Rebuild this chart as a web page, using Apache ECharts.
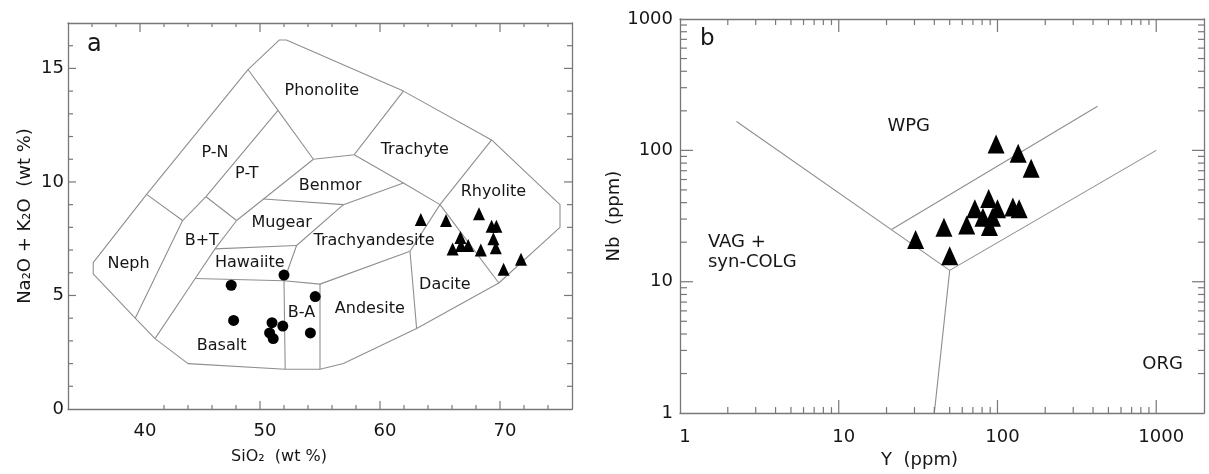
<!DOCTYPE html>
<html>
<head>
<meta charset="utf-8">
<script src="https://cdn.jsdelivr.net/npm/echarts@6/dist/echarts.min.js"></script>
<style>
html, body { margin: 0; padding: 0; background: #fff; }
#chart { width: 1209px; height: 474px; }
</style>
</head>
<body>
<div id="chart"></div>
<script>
// ---- panel a: TAS diagram ----
const basaltSiO2 = [47.6, 52.0, 47.8, 54.6, 51.0, 51.9, 50.8, 51.1, 54.2];
const basaltAlk = [5.45, 5.9, 3.9, 4.95, 3.8, 3.65, 3.35, 3.1, 3.35];
const rhyoliteSiO2 = [63.4, 65.5, 68.25, 69.3, 69.7, 69.45, 69.65, 66.7, 66.05, 66.75, 67.35, 68.4, 70.3, 71.75];
const rhyoliteAlk = [8.35, 8.3, 8.6, 8.05, 8.05, 7.5, 7.1, 7.55, 7.05, 7.2, 7.2, 7.0, 6.15, 6.6];

// field boundaries, polylines of [SiO2, Na2O+K2O]
const tasOutline = [[36.1, 6.45], [40.55, 9.45], [49.0, 14.95], [51.6, 16.25], [52.2, 16.25], [61.95, 14.0],
  [69.3, 11.85], [75.0, 9.0], [75.0, 8.0], [69.9, 5.55], [63.05, 3.55], [56.95, 2.0], [55.0, 1.75],
  [52.1, 1.75], [44.0, 2.0], [41.25, 3.1], [39.6, 4.0], [36.1, 5.95], [36.1, 6.45]];
const tasDividers = [
  [[40.55, 9.45], [43.55, 8.3], [39.6, 4.0]],
  [[49.0, 14.95], [51.5, 13.15], [54.45, 11.0]],
  [[51.5, 13.15], [45.5, 9.35], [43.55, 8.3]],
  [[45.5, 9.35], [48.05, 8.3]],
  [[48.05, 8.3], [46.25, 7.05], [44.6, 5.75], [41.25, 3.1]],
  [[48.05, 8.3], [50.3, 9.25], [54.45, 11.0]],
  [[54.45, 11.0], [57.85, 11.2], [61.95, 14.0]],
  [[57.85, 11.2], [61.95, 9.95], [65.0, 9.0]],
  [[69.3, 11.85], [65.0, 9.0], [62.5, 6.95], [63.05, 3.55]],
  [[65.0, 9.0], [69.9, 5.55]],
  [[50.3, 9.25], [56.95, 9.0], [61.95, 9.95]],
  [[56.95, 9.0], [53.05, 7.2], [52.0, 5.65], [52.1, 1.75]],
  [[46.25, 7.05], [53.05, 7.2]],
  [[44.6, 5.75], [52.0, 5.65], [55.0, 5.5], [62.5, 6.95]],
  [[55.0, 5.5], [55.0, 1.75]]
];
const tasFields = ['Phonolite', 'P-N', 'P-T', 'Trachyte', 'Benmor', 'Rhyolite', 'Mugear', 'B+T', 'Neph',
  'Hawaiite', 'Trachyandesite', 'Basalt', 'B-A', 'Andesite', 'Dacite'];
const tasFieldSiO2 = [55.15, 46.25, 48.9, 62.9, 55.85, 69.45, 51.8, 45.15, 39.05, 49.15, 59.5, 46.8, 53.45, 59.15, 65.4];
const tasFieldAlk = [14.0, 11.3, 10.35, 11.4, 9.85, 9.55, 8.2, 7.4, 6.4, 6.45, 7.4, 2.8, 4.25, 4.4, 5.45];

const tasLabelX = [40, 50, 60, 70];
const tasMajorTopX = [40, 50, 60, 70];
const tasMajorBottomX = [50, 60, 70];
const tasMinorTopX = [36, 38, 42, 44, 46, 48, 52, 54, 56, 58, 62, 64, 66, 68, 72, 74];
const tasMinorBottomX = [42, 44, 46, 48, 52, 54, 56, 58, 62, 64, 66, 68, 72, 74];
const tasLabelY = [0, 5, 10, 15];
const tasMajorY = [5, 10, 15];
const tasMinorY = [1, 2, 3, 4, 6, 7, 8, 9, 11, 12, 13, 14, 16];

// ---- panel b: Nb vs Y (log-log) ----
const graniteY = [98, 135, 163, 88, 72, 100, 125, 137, 81, 93, 64, 46, 30.5, 50, 89];
const graniteNb = [112, 95, 73, 43, 36, 36, 37, 36, 31, 31, 27, 26, 21, 15.8, 26.3];
const pearceLines = [
  [[2.27, 166], [50, 12.2], [1000, 100]],
  [[50, 12.2], [40, 1]],
  [[21.5, 25], [427, 217]]
];
const pearceFields = ['WPG', 'ORG'];
const pearceFieldY = [27.6, 1096];
const pearceFieldNb = [152, 2.34];
const pearceLeftFields = ['VAG +', 'syn-COLG'];
const pearceLeftY = [1.5, 1.5];
const pearceLeftNb = [19.8, 14.1];

const logLabels = [1, 10, 100, 1000];
const logMajorX = [10, 100, 1000];
const logMajorY = [10, 100];
const logMinor = [2, 3, 4, 5, 6, 7, 8, 9, 20, 30, 40, 50, 60, 70, 80, 90, 200, 300, 400, 500, 600, 700, 800, 900];

const axisGrey = '#777777';
const lineGrey = '#8f8f8f';
const ink = '#161616';
const font = 'DejaVu Sans';

// axis extents per panel: [xMin, xMax, yMin, yMax]
const extents = [[34, 76, 0, 17], [1, 2000, 1, 1000]];

function frame(gridIndex, position, type, min, max, label) {
  const ax = {
    gridIndex: gridIndex, position: position, type: type, min: min, max: max,
    axisLine: { show: true, onZero: false, lineStyle: { color: axisGrey, width: 1.3 } },
    axisTick: { show: false },
    axisLabel: { show: false },
    splitLine: { show: false }
  };
  if (type === 'log') ax.logBase = 10;
  if (label) ax.axisLabel = Object.assign({ show: true, color: ink, fontFamily: font, fontSize: 18 }, label);
  return ax;
}

const xAxes = [
  Object.assign(frame(0, 'bottom', 'value', 34, 76, { customValues: tasLabelX, margin: 13, padding: [0, 0, 0, 10] }), {
    name: 'SiO\u2082  (wt %)', nameLocation: 'middle', nameGap: 40,
    nameTextStyle: { color: ink, fontFamily: font, fontSize: 16, padding: [0, 82, 0, 0] }
  }),
  frame(0, 'top', 'value', 34, 76),
  Object.assign(frame(1, 'bottom', 'log', 1, 2000, { customValues: logLabels, margin: 15, padding: [0, 0, 0, 10], formatter: v => String(v) }), {
    name: 'Y  (ppm)', nameLocation: 'middle', nameGap: 30,
    nameTextStyle: { color: ink, fontFamily: font, fontSize: 18, padding: [0, 45, 0, 0] }
  }),
  frame(1, 'top', 'log', 1, 2000)
];
const yAxes = [
  Object.assign(frame(0, 'left', 'value', 0, 17, { customValues: tasLabelY, margin: 4 }), {
    name: 'Na\u2082O + K\u2082O  (wt %)', nameLocation: 'middle', nameRotate: 90, nameGap: 34,
    nameTextStyle: { color: ink, fontFamily: font, fontSize: 18 }
  }),
  frame(0, 'right', 'value', 0, 17),
  Object.assign(frame(1, 'left', 'log', 1, 1000, { customValues: logLabels, margin: 7, formatter: v => String(v) }), {
    name: 'Nb  (ppm)', nameLocation: 'middle', nameRotate: 90, nameGap: 45,
    nameTextStyle: { color: ink, fontFamily: font, fontSize: 18 }
  }),
  frame(1, 'right', 'log', 1, 1000)
];

// inward tick marks drawn through the axes' own scales
function tickMarks(panel, side, values, len) {
  const e = extents[panel];
  return {
    type: 'custom', xAxisIndex: panel * 2, yAxisIndex: panel * 2, silent: true, clip: false, z: 6,
    data: values.map(v => [v, v]),
    renderItem: function (params, api) {
      const v = api.value(0);
      let p, dx = 0, dy = 0;
      if (side === 'bottom') { p = api.coord([v, e[2]]); dy = -len; }
      else if (side === 'top') { p = api.coord([v, e[3]]); dy = len; }
      else if (side === 'left') { p = api.coord([e[0], v]); dx = len; }
      else { p = api.coord([e[1], v]); dx = -len; }
      return {
        type: 'line',
        shape: { x1: p[0], y1: p[1], x2: p[0] + dx, y2: p[1] + dy },
        style: { stroke: axisGrey, lineWidth: 1.2 }
      };
    }
  };
}

function boundary(points, panel) {
  return {
    type: 'line', xAxisIndex: panel * 2, yAxisIndex: panel * 2, data: points, symbol: 'none', silent: true,
    lineStyle: { color: lineGrey, width: 1.1 }, z: 1
  };
}
function fieldLabels(names, xs, ys, panel, size, pos) {
  return {
    type: 'scatter', xAxisIndex: panel * 2, yAxisIndex: panel * 2, symbolSize: 0, silent: true, z: 3,
    itemStyle: { opacity: 1 },
    data: names.map((n, i) => ({ name: n, value: [xs[i], ys[i]] })),
    label: { show: true, position: pos, distance: 0, formatter: p => p.name, color: ink, fontFamily: font, fontSize: size }
  };
}

const series = [];
series.push(boundary(tasOutline, 0));
tasDividers.forEach(d => series.push(boundary(d, 0)));
series.push(fieldLabels(tasFields, tasFieldSiO2, tasFieldAlk, 0, 16, 'inside'));
series.push({
  type: 'scatter', xAxisIndex: 0, yAxisIndex: 0, symbol: 'circle', symbolSize: 11, z: 4,
  itemStyle: { color: '#000', opacity: 1 }, data: basaltSiO2.map((x, i) => [x, basaltAlk[i]])
});
series.push({
  type: 'scatter', xAxisIndex: 0, yAxisIndex: 0, symbol: 'triangle', symbolSize: [12, 13], z: 4,
  itemStyle: { color: '#000', opacity: 1 }, data: rhyoliteSiO2.map((x, i) => [x, rhyoliteAlk[i]])
});
series.push(tickMarks(0, 'bottom', tasMajorBottomX, 8));
series.push(tickMarks(0, 'bottom', tasMinorBottomX, 4));
series.push(tickMarks(0, 'top', tasMajorTopX, 9));
series.push(tickMarks(0, 'top', tasMinorTopX, 4));
series.push(tickMarks(0, 'left', tasMajorY, 8));
series.push(tickMarks(0, 'left', tasMinorY, 5));
series.push(tickMarks(0, 'right', tasMajorY, 8));
series.push(tickMarks(0, 'right', tasMinorY, 5));

pearceLines.forEach(d => series.push(boundary(d, 1)));
series.push(fieldLabels(pearceFields, pearceFieldY, pearceFieldNb, 1, 18, 'inside'));
series.push(fieldLabels(pearceLeftFields, pearceLeftY, pearceLeftNb, 1, 18, 'right'));
series.push({
  type: 'scatter', xAxisIndex: 2, yAxisIndex: 2, symbol: 'triangle', symbolSize: [17, 19], z: 4,
  itemStyle: { color: '#000', opacity: 1 }, data: graniteY.map((x, i) => [x, graniteNb[i]])
});
series.push(tickMarks(1, 'bottom', logMajorX, 13));
series.push(tickMarks(1, 'bottom', logMinor, 6));
series.push(tickMarks(1, 'top', logMajorX, 13));
series.push(tickMarks(1, 'top', logMinor, 6));
series.push(tickMarks(1, 'left', logMajorY, 13));
series.push(tickMarks(1, 'left', logMinor, 7));
series.push(tickMarks(1, 'right', logMajorY, 12));
series.push(tickMarks(1, 'right', logMinor, 6));

const chart = echarts.init(document.getElementById('chart'), null, { renderer: 'canvas' });
chart.setOption({
  backgroundColor: '#ffffff',
  animation: false,
  textStyle: { fontFamily: font },
  grid: [
    { left: 68, top: 23, width: 504, height: 386 },
    { left: 680, top: 19, width: 524, height: 404 }
  ],
  xAxis: xAxes,
  yAxis: yAxes,
  graphic: [
    { type: 'text', left: 87, top: 33, style: { text: 'a', fill: ink, font: '24px "DejaVu Sans"' } },
    { type: 'text', left: 700, top: 28, style: { text: 'b', fill: ink, font: '23px "DejaVu Sans"' } }
  ],
  series: series
});
</script>
</body>
</html>
